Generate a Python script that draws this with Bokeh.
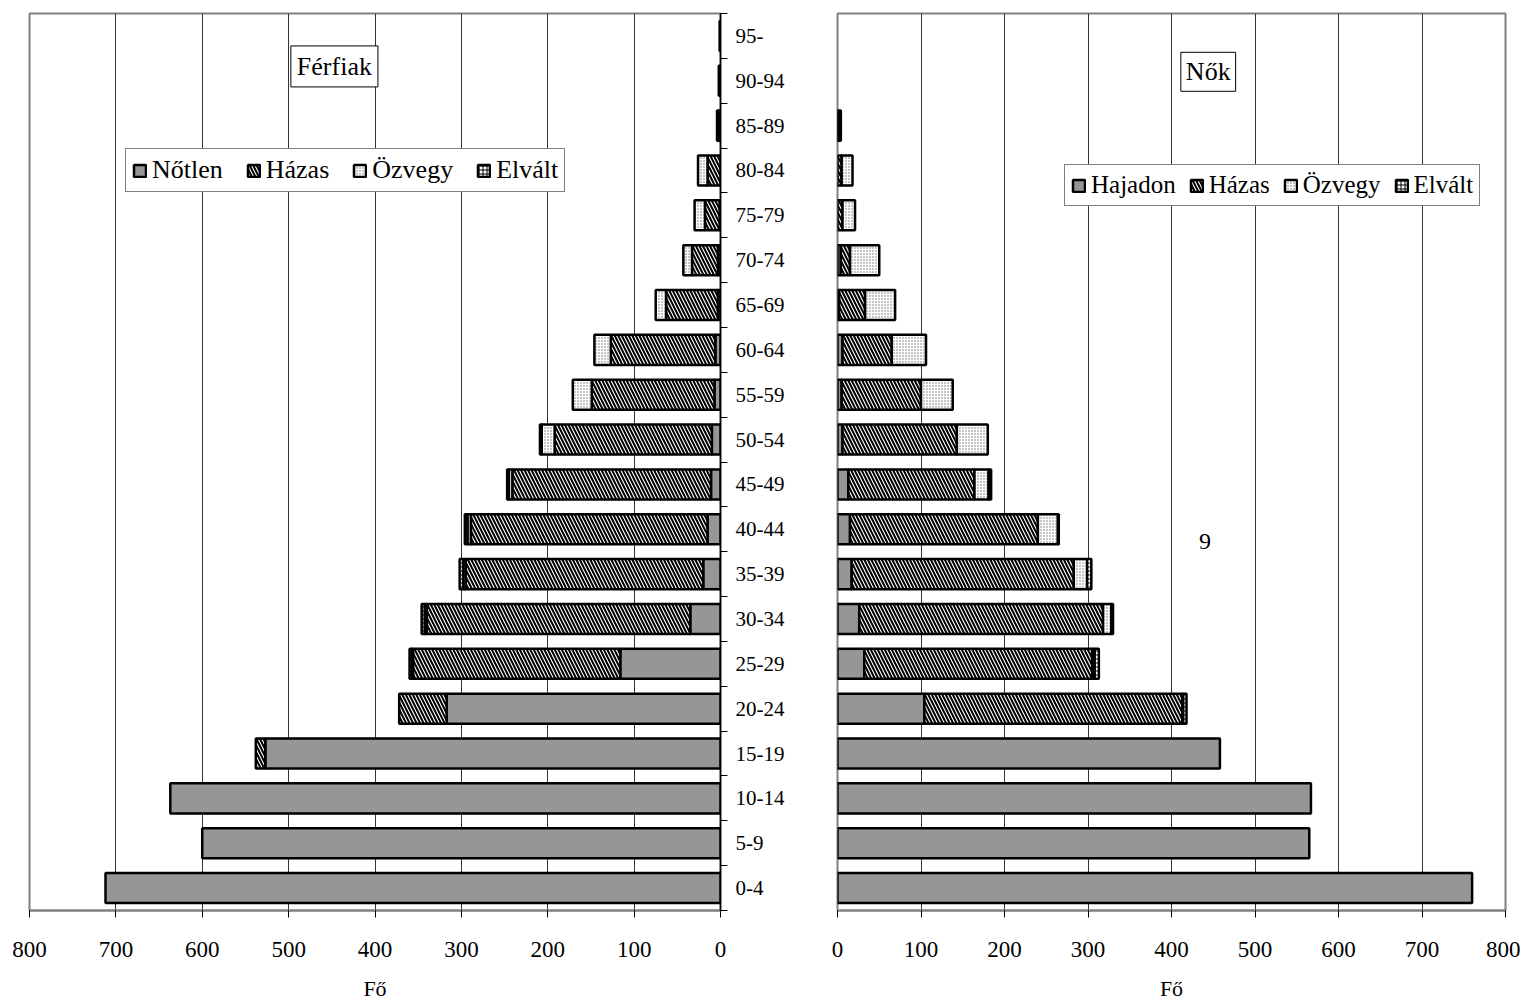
import numpy as np
from bokeh.plotting import figure
from bokeh.models import (Range1d, FixedTicker, Legend, LegendItem, Label, ColumnDataSource)
from bokeh.layouts import row
from bokeh.embed import file_html
from bokeh.resources import INLINE

# ---------------- data ----------------
ages = ["0-4", "5-9", "10-14", "15-19", "20-24", "25-29", "30-34", "35-39", "40-44",
        "45-49", "50-54", "55-59", "60-64", "65-69", "70-74", "75-79", "80-84",
        "85-89", "90-94", "95-"]

men_notlen = [712, 600, 637, 527, 317, 116, 35, 20, 15, 11, 10, 7, 6, 3, 3, 1, 0, 0, 0, 0]
men_hazas = [0, 0, 0, 11, 55, 240, 305, 275, 274, 230, 182, 142, 121, 60, 30, 17, 15, 2, 1, 0]
men_ozvegy = [0, 0, 0, 0, 0, 1, 2, 3, 4, 4, 15, 22, 19, 12, 10, 12, 11, 2, 1, 1]
men_elvalt = [0, 0, 0, 0, 0, 3, 4, 4, 3, 2, 2, 0, 0, 0, 0, 0, 0, 0, 0, 0]

women_hajadon = [760, 565, 567, 458, 104, 32, 26, 17, 15, 13, 6, 5, 6, 2, 4, 0, 0, 0, 0, 0]
women_hazas = [0, 0, 0, 0, 309, 273, 292, 266, 225, 151, 137, 95, 59, 31, 11, 6, 5, 1, 0, 0]
women_ozvegy = [0, 0, 0, 0, 1, 3, 10, 16, 24, 17, 37, 38, 41, 36, 35, 15, 13, 3, 0, 0]
women_elvalt = [0, 0, 0, 0, 4, 5, 2, 5, 1, 3, 0, 0, 0, 0, 0, 0, 0, 0, 0, 0]

men_names = ["Nőtlen", "Házas", "Özvegy", "Elvált"]
women_names = ["Hajadon", "Házas", "Özvegy", "Elvált"]
x_ticks = [0, 100, 200, 300, 400, 500, 600, 700, 800]
x_label = "Fő"

FONT = "Liberation Serif"

STYLES = [
    dict(fill_color="#969696"),
    dict(fill_color="white", hatch_pattern="\\", hatch_color="black",
         hatch_weight=2, hatch_scale=7),
    dict(fill_color="white", hatch_pattern="dot", hatch_color="#707070",
         hatch_weight=1, hatch_scale=3),
    dict(fill_color="white", hatch_pattern="+", hatch_color="black",
         hatch_weight=1, hatch_scale=4),
]


def add_bars(p, series, names):
    n = len(ages)
    y = np.arange(n)
    base = np.zeros(n)
    items = []
    for vals, name, st in zip(series, names, STYLES):
        vals = np.asarray(vals, dtype=float)
        mask = vals > 0
        src = ColumnDataSource(dict(y=y[mask], left=base[mask], right=(base + vals)[mask]))
        r = p.hbar(y="y", left="left", right="right", height=0.67, source=src,
                   line_color="black", line_width=2.5, **st)
        base = base + vals
        items.append(LegendItem(label=name, renderers=[r]))
    return items


def style_common(p):
    p.outline_line_color = "#808080"
    p.outline_line_width = 2
    p.background_fill_color = "white"
    p.border_fill_color = "white"
    p.ygrid.visible = False
    p.xgrid.ticker = FixedTicker(ticks=x_ticks)
    p.xgrid.grid_line_color = "#333333"
    p.xgrid.grid_line_width = 1
    ax = p.xaxis[0]
    ax.ticker = FixedTicker(ticks=x_ticks, minor_ticks=[])
    ax.axis_line_color = "#808080"
    ax.axis_line_width = 2
    ax.major_tick_line_color = "black"
    ax.major_tick_out = 7
    ax.major_tick_in = 0
    ax.minor_tick_out = 0
    ax.minor_tick_in = 0
    ax.major_label_text_font = FONT
    ax.major_label_text_font_size = "23px"
    ax.major_label_text_color = "black"
    ax.major_label_standoff = 24
    ax.axis_label = x_label
    ax.axis_label_text_font = FONT
    ax.axis_label_text_font_style = "normal"
    ax.axis_label_text_font_size = "22px"
    ax.axis_label_text_color = "black"
    ax.axis_label_standoff = 16


def make_legend(items, x, y, spacing, size):
    return Legend(items=items, location=(x, y), orientation="horizontal",
                  label_text_font=FONT, label_text_font_size=size,
                  label_text_color="black",
                  glyph_width=15, glyph_height=15, label_standoff=5,
                  spacing=spacing, padding=6, margin=0,
                  border_line_color="black", border_line_width=1,
                  background_fill_color="white", background_fill_alpha=1)


# ---------------- left: men ----------------
pl = figure(frame_width=691, frame_height=897, x_range=Range1d(800, 0),
            y_range=Range1d(-0.5, len(ages) - 0.5), y_axis_location="right",
            output_backend="svg", toolbar_location=None,
            min_border_left=29, min_border_right=100, min_border_top=13,
            min_border_bottom=80)
men_items = add_bars(pl, [men_notlen, men_hazas, men_ozvegy, men_elvalt], men_names)
style_common(pl)
ya = pl.yaxis[0]
ya.ticker = FixedTicker(ticks=list(range(len(ages))),
                        minor_ticks=list(np.arange(len(ages) + 1) - 0.5))
ya.major_label_overrides = {i: a for i, a in enumerate(ages)}
ya.axis_line_color = "black"
ya.axis_line_width = 1.5
ya.major_tick_out = 0
ya.major_tick_in = 0
ya.minor_tick_out = 7
ya.minor_tick_in = 0
ya.minor_tick_line_color = "black"
ya.major_label_text_font = FONT
ya.major_label_text_font_size = "21px"
ya.major_label_text_color = "black"
ya.major_label_standoff = 8

pl.add_layout(make_legend(men_items, 96, 718, 23, "26px"))
pl.add_layout(Label(x=447, y=18.32, text="Férfiak", text_align="center",
                    text_baseline="middle", text_font=FONT, text_font_size="26px",
                    text_color="black",
                    border_line_color="black", border_line_width=1,
                    background_fill_color="white", padding=6))

# ---------------- right: women ----------------
pr = figure(frame_width=668, frame_height=897, x_range=Range1d(0, 800),
            y_range=Range1d(-0.5, len(ages) - 0.5), y_axis_location=None,
            output_backend="svg", toolbar_location=None,
            min_border_left=17, min_border_right=15, min_border_top=13,
            min_border_bottom=80)
women_items = add_bars(pr, [women_hajadon, women_hazas, women_ozvegy, women_elvalt], women_names)
style_common(pr)
pr.add_layout(make_legend(women_items, 227, 704, 13, "25px"))
pr.add_layout(Label(x=444, y=18.2, text="Nők", text_align="center",
                    text_baseline="middle", text_font=FONT, text_font_size="26px",
                    text_color="black",
                    border_line_color="black", border_line_width=1,
                    background_fill_color="white", padding=5))
pr.add_layout(Label(x=440, y=7.72, text="9", text_align="center",
                    text_baseline="middle", text_font=FONT, text_font_size="24px",
                    text_color="black"))

layout = row(pl, pr)
open("out.html", "w").write(file_html(layout, INLINE))
